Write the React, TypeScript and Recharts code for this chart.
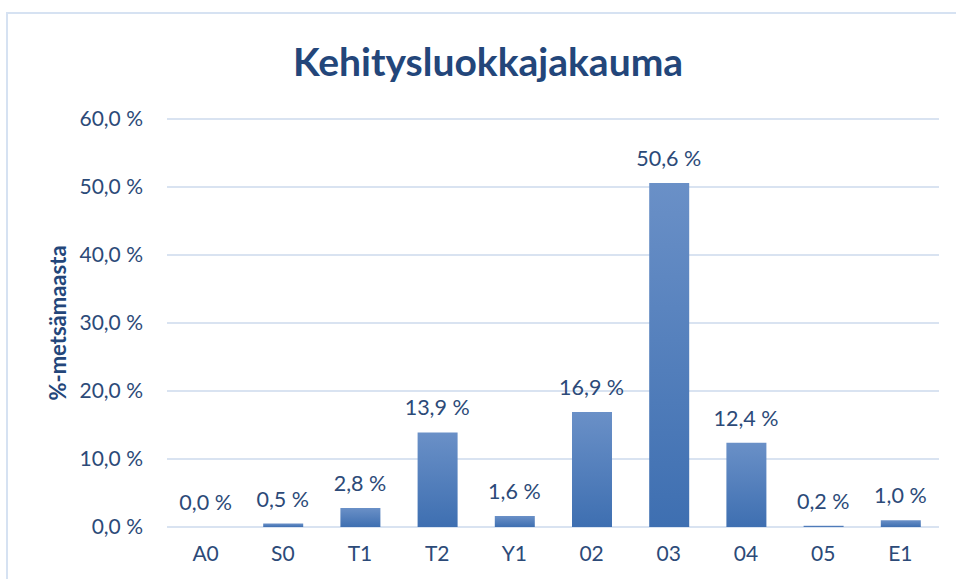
import * as React from 'react';
import {
  Bar,
  CartesianGrid,
  ComposedChart,
  Line,
  XAxis,
  YAxis,
} from 'recharts';

const CATEGORIES = ['A0', 'S0', 'T1', 'T2', 'Y1', '02', '03', '04', '05', 'E1'];
const SHARES = [0.0, 0.5, 2.8, 13.9, 1.6, 16.9, 50.6, 12.4, 0.2, 1.0];
const Y_TICKS = [0, 10, 20, 30, 40, 50, 60];

const TITLE = 'Kehitysluokkajakauma';
const Y_LABEL = '%-metsämaasta';

const FONT = `Lato, "Open Sans", sans-serif`;
const TEXT_COLOR = '#2c4a78';
const TITLE_COLOR = '#23467a';
const GRID_COLOR = '#d9e3f1';
const BORDER_COLOR = '#d6e2f2';

const fmt = (v: number) => `${v.toFixed(1).replace('.', ',')} %`;

const data = CATEGORIES.map((name, i) => ({ name, value: SHARES[i] }));

const YLabel = (props: any) => {
  const { viewBox } = props;
  const cy = viewBox.y + viewBox.height / 2;
  const x = 57;
  return (
    <text
      x={x}
      y={cy}
      transform={`rotate(-90, ${x}, ${cy})`}
      textAnchor="middle"
      dominantBaseline="central"
      fill={TITLE_COLOR}
      fontSize={22}
      fontWeight={700}
      fontFamily={FONT}
    >
      {Y_LABEL}
    </text>
  );
};

// value label above each bar (drawn through an invisible line so 0 values get one too)
const BarValue = (props: any) => {
  const { x, y, value } = props;
  return (
    <text
      x={x}
      y={y - 17}
      textAnchor="middle"
      fill={TEXT_COLOR}
      fontSize={21.5}
      fontFamily={FONT}
    >
      {fmt(Number(value))}
    </text>
  );
};

export default function App() {
  return (
    <div
      style={{
        position: 'absolute',
        left: 0,
        top: 0,
        width: 956,
        height: 579,
        overflow: 'hidden',
        background: '#fff',
      }}
    >
      <div
        style={{
          position: 'absolute',
          left: 6,
          top: 12,
          width: 980,
          height: 600,
          border: `2px solid ${BORDER_COLOR}`,
        }}
      />
      <div
        style={{
          position: 'absolute',
          left: 0,
          top: 36,
          width: 976,
          textAlign: 'center',
          fontFamily: FONT,
          fontWeight: 700,
          fontSize: 39,
          lineHeight: '50px',
          color: TITLE_COLOR,
        }}
      >
        {TITLE}
      </div>
      <ComposedChart
        width={956}
        height={579}
        data={data}
        margin={{ top: 119, right: 17, bottom: 22, left: 0 }}
        style={{ position: 'absolute', left: 0, top: 0 }}
      >
        <defs>
          <linearGradient id="barFill" x1="0" y1="0" x2="0" y2="1">
            <stop offset="0%" stopColor="#6a90c7" />
            <stop offset="100%" stopColor="#3e6fb1" />
          </linearGradient>
        </defs>
        <CartesianGrid vertical={false} stroke={GRID_COLOR} strokeWidth={2} />
        <XAxis
          dataKey="name"
          height={30}
          axisLine={false}
          tickLine={false}
          tickSize={0}
          tickMargin={19}
          interval={0}
          tick={{ fill: TEXT_COLOR, fontSize: 21, fontFamily: FONT }}
        />
        <YAxis
          width={167}
          domain={[0, 60]}
          ticks={Y_TICKS}
          axisLine={false}
          tickLine={false}
          tickSize={0}
          tickMargin={24}
          tickFormatter={fmt}
          tick={{ fill: TEXT_COLOR, fontSize: 21, fontFamily: FONT }}
          label={<YLabel />}
        />
        <Bar dataKey="value" fill="url(#barFill)" barSize={40} isAnimationActive={false} />
        <Line
          dataKey="value"
          stroke="none"
          dot={false}
          activeDot={false}
          legendType="none"
          label={<BarValue />}
          isAnimationActive={false}
        />
      </ComposedChart>
    </div>
  );
}
